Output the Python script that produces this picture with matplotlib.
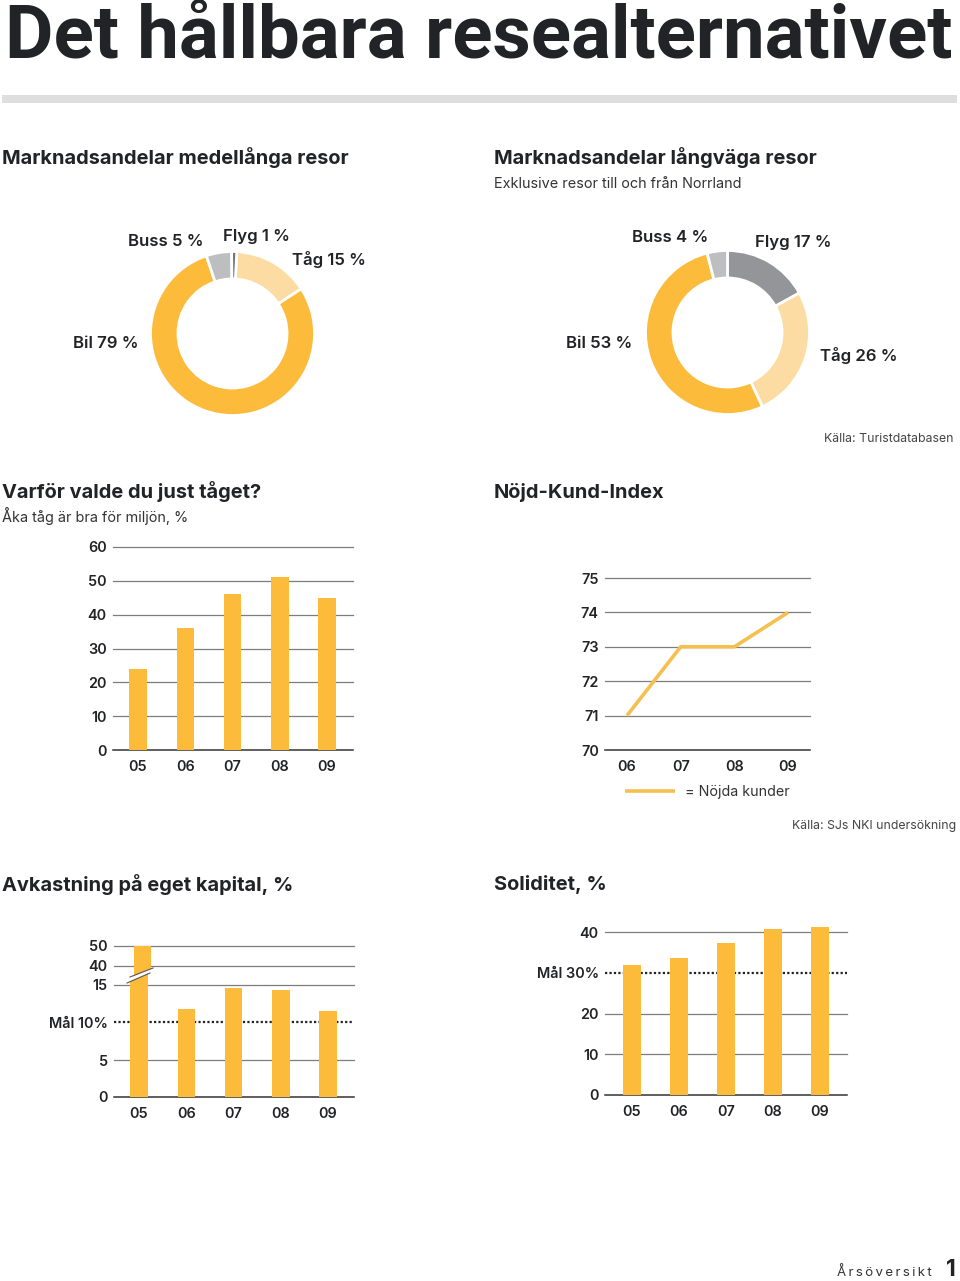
import numpy as np
import matplotlib
matplotlib.use("Agg")
import matplotlib.pyplot as plt
from matplotlib.patches import Polygon, Rectangle

W, H = 960, 1281
YEL, PALE, LG, DG, DG2 = "#FDBB3B", "#FDDCA4", "#BDBEC0", "#939598", "#6F7178"
INK = "#222326"
GRID = "#7D7D7D"
plt.rcParams["font.family"] = ["Inter", "DejaVu Sans"]

medium_labels = ["Tåg 15 %", "Bil 79 %", "Buss 5 %", "Flyg 1 %"]
medium_values = [15, 79, 5, 1]
long_labels = ["Flyg 17 %", "Tåg 26 %", "Bil 53 %", "Buss 4 %"]
long_values = [17, 26, 53, 4]

why_years = ["05", "06", "07", "08", "09"]
why_values = [24, 36, 46, 51, 45]
why_ticks = [0, 10, 20, 30, 40, 50, 60]

nki_years = ["06", "07", "08", "09"]
nki_values = [71, 73, 73, 74]
nki_ticks = [70, 71, 72, 73, 74, 75]

roe_years = ["05", "06", "07", "08", "09"]
roe_values = [50, 11.8, 14.6, 14.3, 11.5]
roe_ticks = [0, 5, 15, 40, 50]
roe_goal = 10
roe_break_in = [0, 5, 10, 15, 40, 50]
roe_break_out = [0, 37, 75, 112, 131, 151]

sol_years = ["05", "06", "07", "08", "09"]
sol_values = [32, 33.7, 37.3, 40.7, 41.4]
sol_ticks = [0, 10, 20, 40]
sol_goal = 30

fig = plt.figure(figsize=(W / 100, H / 100), dpi=100, facecolor="white")
ov = fig.add_axes([0, 0, 1, 1], zorder=10)
ov.set_xlim(0, W)
ov.set_ylim(H, 0)
ov.axis("off")
ov.patch.set_alpha(0)


def txt(x, y, s, size, weight="normal", ha="left", color=INK, **kw):
    return ov.text(x, y, s, fontsize=size * 0.72, fontweight=weight, ha=ha, va="center",
                   color=color, **kw)


def make_axes(l, r, top, bottom):
    return fig.add_axes([l / W, 1 - bottom / H, (r - l) / W, (bottom - top) / H], zorder=2)


def style(ax, x0, dx, l, r, ylim=None):
    ax.set_xlim((l - x0) / dx, (r - x0) / dx)
    if ylim:
        ax.set_ylim(*ylim)
    for s in ax.spines.values():
        s.set_visible(False)
    ax.patch.set_alpha(0)
    ax.tick_params(axis="both", length=0, labelsize=10.4, labelcolor=INK)
    ax.tick_params(axis="y", pad=4.5)
    ax.tick_params(axis="x", pad=7.5)


def finish(ax):
    for lab in ax.get_xticklabels() + ax.get_yticklabels():
        lab.set_fontweight("semibold")


def hgrid(ax, ticks, base):
    for t in ticks:
        ax.axhline(t, color="#333333" if t == base else GRID, lw=1.1 if t == base else 0.9,
                   zorder=1, clip_on=False)


def donut(cx, cy, values, colors, start):
    R = 82
    ax = make_axes(cx - R, cx + R, cy - R, cy + R)
    ax.pie(values, colors=colors, startangle=start, counterclock=False, radius=1,
           wedgeprops=dict(width=0.335, edgecolor="white", linewidth=2))
    ax.set_xlim(-1, 1)
    ax.set_ylim(-1, 1)


# Headings
ov.text(5, 37, "Det hållbara resealternativet", fontsize=74.4 * 0.72, fontweight="bold",
        family=["Roboto", "DejaVu Sans"], ha="left", va="center", color=INK)
ov.add_patch(Rectangle((2, 95), 955, 8, color="#DEDEDE", lw=0))

H2 = 20
txt(2, 158, "Marknadsandelar medellånga resor", H2, "bold")
txt(494, 158, "Marknadsandelar långväga resor", H2, "bold")
txt(494, 184.5, "Exklusive resor till och från Norrland", 14.45, color="#333333")
txt(2, 492, "Varför valde du just tåget?", H2, "bold")
txt(2, 516, "Åka tåg är bra för miljön, %", 14.45, color="#333333")
txt(494, 492, "Nöjd-Kund-Index", H2, "bold")
txt(2, 885, "Avkastning på eget kapital, %", H2, "bold")
txt(494, 884, "Soliditet, %", H2, "bold")
txt(953, 439, "Källa: Turistdatabasen", 12.3, ha="right", color="#444444")
txt(956, 826, "Källa: SJs NKI undersökning", 12.3, ha="right", color="#444444")
txt(837, 1272, "\u2009".join("Årsöversikt"), 13.3, color="#333333")
txt(956, 1270, "1", 23, "bold", ha="right")

# Donuts
donut(232.5, 333.5, medium_values, [PALE, YEL, LG, DG2], 87)
donut(727.5, 332.5, long_values, [DG, PALE, YEL, LG], 90)
LAB = 16.8
for (x, y, s) in zip([292, 73, 128, 223], [260, 343, 242, 237], medium_labels):
    txt(x, y, s, LAB, "semibold")
for (x, y, s) in zip([755, 820, 566, 632], [242, 355, 344, 237], long_labels):
    txt(x, y, s, LAB, "semibold")

# Why train
ax = make_axes(113, 353, 547, 750)
style(ax, 138, 47.25, 113, 353, (0, 60))
hgrid(ax, why_ticks, 0)
ax.bar(range(5), why_values, width=17.5 / 47.25, color=YEL, zorder=2)
ax.set_yticks(why_ticks)
ax.set_xticks(range(5), why_years)
finish(ax)

# NKI
ax = make_axes(605, 810, 578, 750)
style(ax, 627, 53.7, 605, 810, (70, 75))
hgrid(ax, nki_ticks, 70)
line, = ax.plot(range(4), nki_values, color="#F5C04F", lw=2.6, zorder=3,
                solid_capstyle="butt", label="= Nöjda kunder")
ax.set_yticks(nki_ticks)
ax.set_xticks(range(4), nki_years)
finish(ax)
ov.legend(handles=[line], loc="center left", bbox_to_anchor=(625, 792), bbox_transform=ov.transData,
          frameon=False, fontsize=10.3, handlelength=3.5, handletextpad=0.7, borderpad=0, borderaxespad=0,
          labelcolor="#333333")

# Return on equity (broken scale)
f = lambda v: np.interp(v, roe_break_in, roe_break_out)
g = lambda v: np.interp(v, roe_break_out, roe_break_in)
ax = make_axes(114, 354, 946, 1097)
style(ax, 139, 47.25, 114, 354)
ax.set_yscale("function", functions=(f, g))
ax.set_ylim(0, 50)
hgrid(ax, roe_ticks, 0)
ax.axhline(roe_goal, color="#222222", lw=1.6, ls=(0, (1, 1)), zorder=1, clip_on=False)
bars = ax.bar(range(5), roe_values, width=17.5 / 47.25, color=YEL, zorder=2)
upper = ax.bar([3.5 / 47.25], [roe_values[0]], width=17.5 / 47.25, color=YEL, zorder=2)[0]
bars[0].set_clip_path(Polygon([(120, 986), (160, 968.7), (160, 1100), (120, 1100)], transform=ov.transData))
upper.set_clip_path(Polygon([(120, 981), (160, 965), (160, 940), (120, 940)], transform=ov.transData))
ov.plot([127, 150], [983, 973], color="#555555", lw=0.8)
ov.plot([130, 153], [977, 968], color="#555555", lw=0.8)
ax.set_yticks(roe_ticks + [roe_goal], [str(t) for t in roe_ticks] + [f"Mål {roe_goal}%"])
ax.set_xticks(range(5), roe_years)
finish(ax)

# Equity ratio
ax = make_axes(605, 847, 925, 1095)
style(ax, 632, 47, 605, 847, (0, 170 / 4.07))
hgrid(ax, sol_ticks, 0)
ax.axhline(sol_goal, color="#222222", lw=1.6, ls=(0, (1, 1)), zorder=1, clip_on=False)
ax.bar(range(5), sol_values, width=18 / 47, color=YEL, zorder=2)
ax.set_yticks(sol_ticks + [sol_goal], [str(t) for t in sol_ticks] + [f"Mål {sol_goal}%"])
ax.set_xticks(range(5), sol_years)
finish(ax)

fig.savefig("out.png", dpi=100, facecolor="white")
